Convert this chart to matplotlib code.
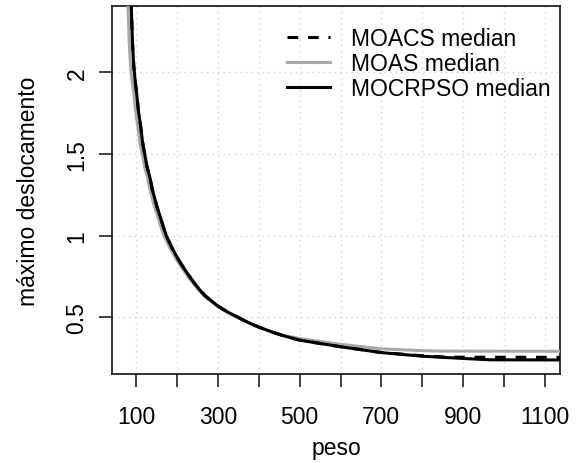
import matplotlib
matplotlib.use("Agg")
import matplotlib.pyplot as plt

plt.rcParams['font.family'] = ['Liberation Sans', 'DejaVu Sans']

# median fronts: weight (peso) vs. maximum displacement
mocrpso_x = [85, 87, 90, 93, 96, 100, 105, 110, 115, 120, 126, 133, 139, 145,
             151, 157, 165, 173, 187, 202, 215, 230, 240, 255, 270, 300, 325,
             349, 375, 400, 430, 459, 500, 600, 700, 800, 887, 965, 1138]
mocrpso_y = [2.70, 2.42, 2.19, 2.05, 1.965, 1.878, 1.76, 1.673, 1.57, 1.50,
             1.42, 1.355, 1.28, 1.225, 1.17, 1.125, 1.06, 1.00, 0.925, 0.857,
             0.805, 0.75, 0.715, 0.668, 0.628, 0.568, 0.53, 0.50, 0.467, 0.44,
             0.412, 0.388, 0.36, 0.32, 0.284, 0.262, 0.250, 0.240, 0.239]

moacs_x = [85, 87, 90, 93, 96, 100, 105, 110, 115, 120, 126, 133, 139, 145,
           151, 157, 165, 173, 187, 202, 215, 230, 240, 255, 270, 300, 325,
           349, 375, 400, 430, 459, 500, 600, 700, 800, 860, 1138]
moacs_y = [2.70, 2.42, 2.19, 2.05, 1.965, 1.878, 1.76, 1.673, 1.57, 1.50,
           1.42, 1.355, 1.28, 1.225, 1.17, 1.125, 1.06, 1.00, 0.925, 0.857,
           0.805, 0.75, 0.715, 0.668, 0.628, 0.568, 0.53, 0.50, 0.467, 0.44,
           0.412, 0.388, 0.36, 0.32, 0.285, 0.265, 0.256, 0.255]

moas_x = [77, 79, 82, 85, 88, 93, 98, 103, 108, 114, 120, 127, 133, 139,
          145, 151, 159, 167, 182, 197, 211, 226, 237, 252, 267, 298, 323,
          347, 374, 399, 430, 459, 500, 600, 700, 800, 850, 1138]
moas_y = [2.70, 2.42, 2.19, 2.05, 1.965, 1.878, 1.76, 1.673, 1.57, 1.50,
          1.42, 1.355, 1.28, 1.225, 1.17, 1.125, 1.06, 1.00, 0.925, 0.857,
          0.805, 0.75, 0.715, 0.668, 0.628, 0.568, 0.53, 0.50, 0.467, 0.44,
          0.412, 0.39, 0.37, 0.335, 0.307, 0.296, 0.293, 0.292]

x_ticks = [100, 200, 300, 400, 500, 600, 700, 800, 900, 1000, 1100]
x_tick_labels = ['100', '', '300', '', '500', '', '700', '', '900', '', '1100']
y_ticks = [0.5, 1.0, 1.5, 2.0]
y_tick_labels = ['0.5', '1', '1.5', '2']

fig = plt.figure(figsize=(5.81, 4.64), dpi=100)
ax = fig.add_axes([0.1928, 0.1918, 0.7711, 0.7925])

fs = 16.5
lw = 2.2

ax.plot(moacs_x, moacs_y, color='black', lw=lw, dashes=(3.5, 3.2),
        label='MOACS median', zorder=4)
ax.plot(moas_x, moas_y, color='#A9A9A9', lw=lw, label='MOAS median', zorder=3)
ax.plot(mocrpso_x, mocrpso_y, color='black', lw=lw, label='MOCRPSO median',
        zorder=5)

ax.set_xlim(40, 1138)
ax.set_ylim(0.153, 2.404)

ax.set_xticks(x_ticks)
ax.set_xticklabels(x_tick_labels, fontsize=fs)
ax.set_yticks(y_ticks)
ax.set_yticklabels(y_tick_labels, fontsize=fs, rotation=90, va='center')

ax.tick_params(axis='both', direction='out', length=9.5, width=1.2,
               color='#222222')
ax.tick_params(axis='x', pad=13)
ax.tick_params(axis='y', pad=7.5)

for v in x_ticks:
    ax.axvline(v, color='#D3D3D3', lw=1.0, ls=(0, (1, 3)), zorder=1)
for v in y_ticks:
    ax.axhline(v, color='#D3D3D3', lw=1.0, ls=(0, (1, 3)), zorder=1)

for s in ax.spines.values():
    s.set_linewidth(1.3)
    s.set_color('#222222')

ax.set_xlabel('peso', fontsize=fs, labelpad=5.5)
ax.set_ylabel('máximo deslocamento', fontsize=fs, labelpad=18)

leg = ax.legend(loc='upper right', frameon=False, fontsize=fs,
                handlelength=1.88, handletextpad=0.92, labelspacing=0.08,
                borderpad=0.1, borderaxespad=0.3,
                bbox_to_anchor=(1.0, 0.968))

fig.savefig('out.png', dpi=100)
